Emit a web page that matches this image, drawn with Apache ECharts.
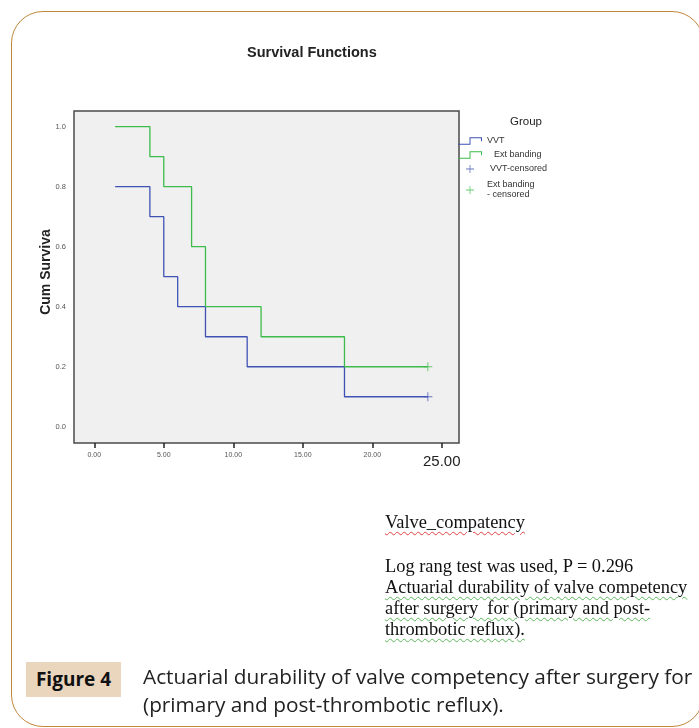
<!DOCTYPE html>
<html>
<head>
<meta charset="utf-8">
<script src="https://cdn.jsdelivr.net/npm/echarts@6/dist/echarts.min.js"></script>
<style>
  html, body { margin:0; padding:0; background:#fff; }
  #wrap { position:relative; width:699px; height:728px; overflow:hidden; }
  #frame { position:absolute; left:11px; top:11px; width:693px; height:716px; border:1.5px solid #c0873a; border-radius:32px; box-sizing:border-box; }
  #chart { position:absolute; left:0; top:0; width:699px; height:728px; }
  .word { position:absolute; left:385px; font-family:"Liberation Serif", "Times New Roman", serif; font-size:18.4px; color:#111; white-space:nowrap; line-height:21px; }
  .red { text-decoration: underline wavy #e04040; text-decoration-thickness:1px; text-underline-offset:3px; }
  .grn { text-decoration: underline wavy #5cb85c; text-decoration-thickness:1px; text-underline-offset:3px; }
  #figbox { position:absolute; left:26px; top:662px; width:95px; height:35px; background:#ead5bd; font-family:"Open Sans", sans-serif; font-weight:bold; font-size:19px; color:#111; text-align:center; line-height:35px; }
  #cap { position:absolute; left:143px; top:662px; font-family:"Open Sans", sans-serif; font-size:20.8px; color:#222; line-height:28px; white-space:nowrap; }
</style>
</head>
<body>
<div id="wrap">
  <div id="frame"></div>
  <div id="chart"></div>
  <div class="word" style="top:512px;"><span class="red">Valve_compatency</span></div>
  <div class="word" style="top:556px;">Log rang test was used, P = 0.296</div>
  <div class="word" style="top:577px;"><span class="grn">Actuarial durability of valve competency</span></div>
  <div class="word" style="top:598px;"><span class="grn">after surgery&nbsp; for (primary and post-</span></div>
  <div class="word" style="top:619px;"><span class="grn">thrombotic reflux).</span></div>
  <div id="figbox">Figure 4</div>
  <div id="cap">Actuarial durability of valve competency after surgery for<br>(primary and post-thrombotic reflux).</div>
</div>
<script>
// ---- data ----
var vvtTime = [1.5, 4, 5, 6, 8, 11, 18, 24];
var vvtSurv = [0.8, 0.7, 0.5, 0.4, 0.3, 0.2, 0.1, 0.1];
var extTime = [1.5, 4, 5, 7, 8, 12, 18, 24];
var extSurv = [1.0, 0.9, 0.8, 0.6, 0.4, 0.3, 0.2, 0.2];
var vvtCensTime = [24];
var vvtCensSurv = [0.1];
var extCensTime = [24];
var extCensSurv = [0.2];
var xTicks = [0, 5, 10, 15, 20, 25];
var yTicks = [0, 0.2, 0.4, 0.6, 0.8, 1.0];
var seriesNames = ['VVT', 'Ext banding', 'VVT-censored', 'Ext banding\n- censored'];

function zip(a, b) { return a.map(function (v, i) { return [v, b[i]]; }); }

var BLUE = '#3f52b4';
var GREEN = '#3dbb4b';
var stepIcon = 'path://M0,6.5H11.5V0H24V4H23V1H12.5V7.5H0Z';
var plusIcon = 'path://M5.4,0H6.6V12H5.4Z M0,5.4H12V6.6H0Z';

var chart = echarts.init(document.getElementById('chart'), null, { renderer: 'canvas' });
chart.setOption({
  animation: false,
  backgroundColor: 'transparent',
  textStyle: { fontFamily: 'Liberation Sans, Arial, sans-serif' },
  title: [
    { text: 'Survival Functions', left: 247, top: 45, padding: 0,
      textStyle: { fontSize: 14.5, fontWeight: 'bold', color: '#222', fontFamily: 'Liberation Sans' } },
    { text: 'Group', left: 510, top: 116, padding: 0,
      textStyle: { fontSize: 11.5, fontWeight: 'normal', color: '#222', fontFamily: 'Liberation Sans' } }
  ],
  legend: {
    orient: 'vertical', left: 458, top: 136, padding: 0,
    itemWidth: 24, itemHeight: 8, itemGap: 4, selectedMode: false,
    textStyle: { fontSize: 9, color: '#333', lineHeight: 10, fontFamily: 'Liberation Sans' },
    data: [
      { name: seriesNames[0], icon: stepIcon },
      { name: seriesNames[1], icon: stepIcon, textStyle: { padding: [0, 0, 0, 7] } },
      { name: seriesNames[2], icon: plusIcon, textStyle: { padding: [0, 0, 0, 3] } },
      { name: seriesNames[3], icon: plusIcon, textStyle: { padding: [4, 0, 0, 0] } }
    ]
  },
  grid: { left: 74, top: 111, width: 385, height: 332, show: true,
          backgroundColor: '#f0f0f0', borderColor: '#4a4a4a', borderWidth: 1.5 },
  xAxis: {
    type: 'value', min: -1.46, max: 26.24,
    splitLine: { show: false },
    axisLine: { show: false, onZero: false },
    axisTick: { show: true, customValues: xTicks, length: 5, lineStyle: { color: '#222', width: 1.5 } },
    axisLabel: {
      customValues: xTicks, margin: 9, fontSize: 7, color: '#555',
      formatter: function (v) { return v === 25 ? '{big|25.00}' : v.toFixed(2); },
      rich: { big: { fontSize: 15, color: '#222', padding: [2, 0, 0, 0] } }
    }
  },
  yAxis: {
    type: 'value', min: -0.054, max: 1.052,
    splitLine: { show: false },
    axisLine: { show: false, onZero: false },
    axisTick: { show: false },
    axisLabel: { customValues: yTicks, margin: 8, fontSize: 7.5, color: '#555',
      formatter: function (v) { return v.toFixed(1); } },
    name: 'Cum Surviva', nameLocation: 'middle', nameGap: 21, nameMoveOverlap: false,
    nameTextStyle: { fontSize: 14, fontWeight: 'bold', color: '#222', fontFamily: 'Liberation Sans', padding: [0, 0, 0, 10] }
  },
  series: [
    { name: seriesNames[0], type: 'line', step: 'end', showSymbol: false, data: zip(vvtTime, vvtSurv),
      lineStyle: { color: BLUE, width: 1.3 }, itemStyle: { color: BLUE } },
    { name: seriesNames[1], type: 'line', step: 'end', showSymbol: false, data: zip(extTime, extSurv),
      lineStyle: { color: GREEN, width: 1.3 }, itemStyle: { color: GREEN } },
    { name: seriesNames[2], type: 'scatter', symbol: plusIcon, symbolSize: 9, data: zip(vvtCensTime, vvtCensSurv),
      itemStyle: { color: BLUE } },
    { name: seriesNames[3], type: 'scatter', symbol: plusIcon, symbolSize: 9, data: zip(extCensTime, extCensSurv),
      itemStyle: { color: GREEN } }
  ]
});
</script>
</body>
</html>
